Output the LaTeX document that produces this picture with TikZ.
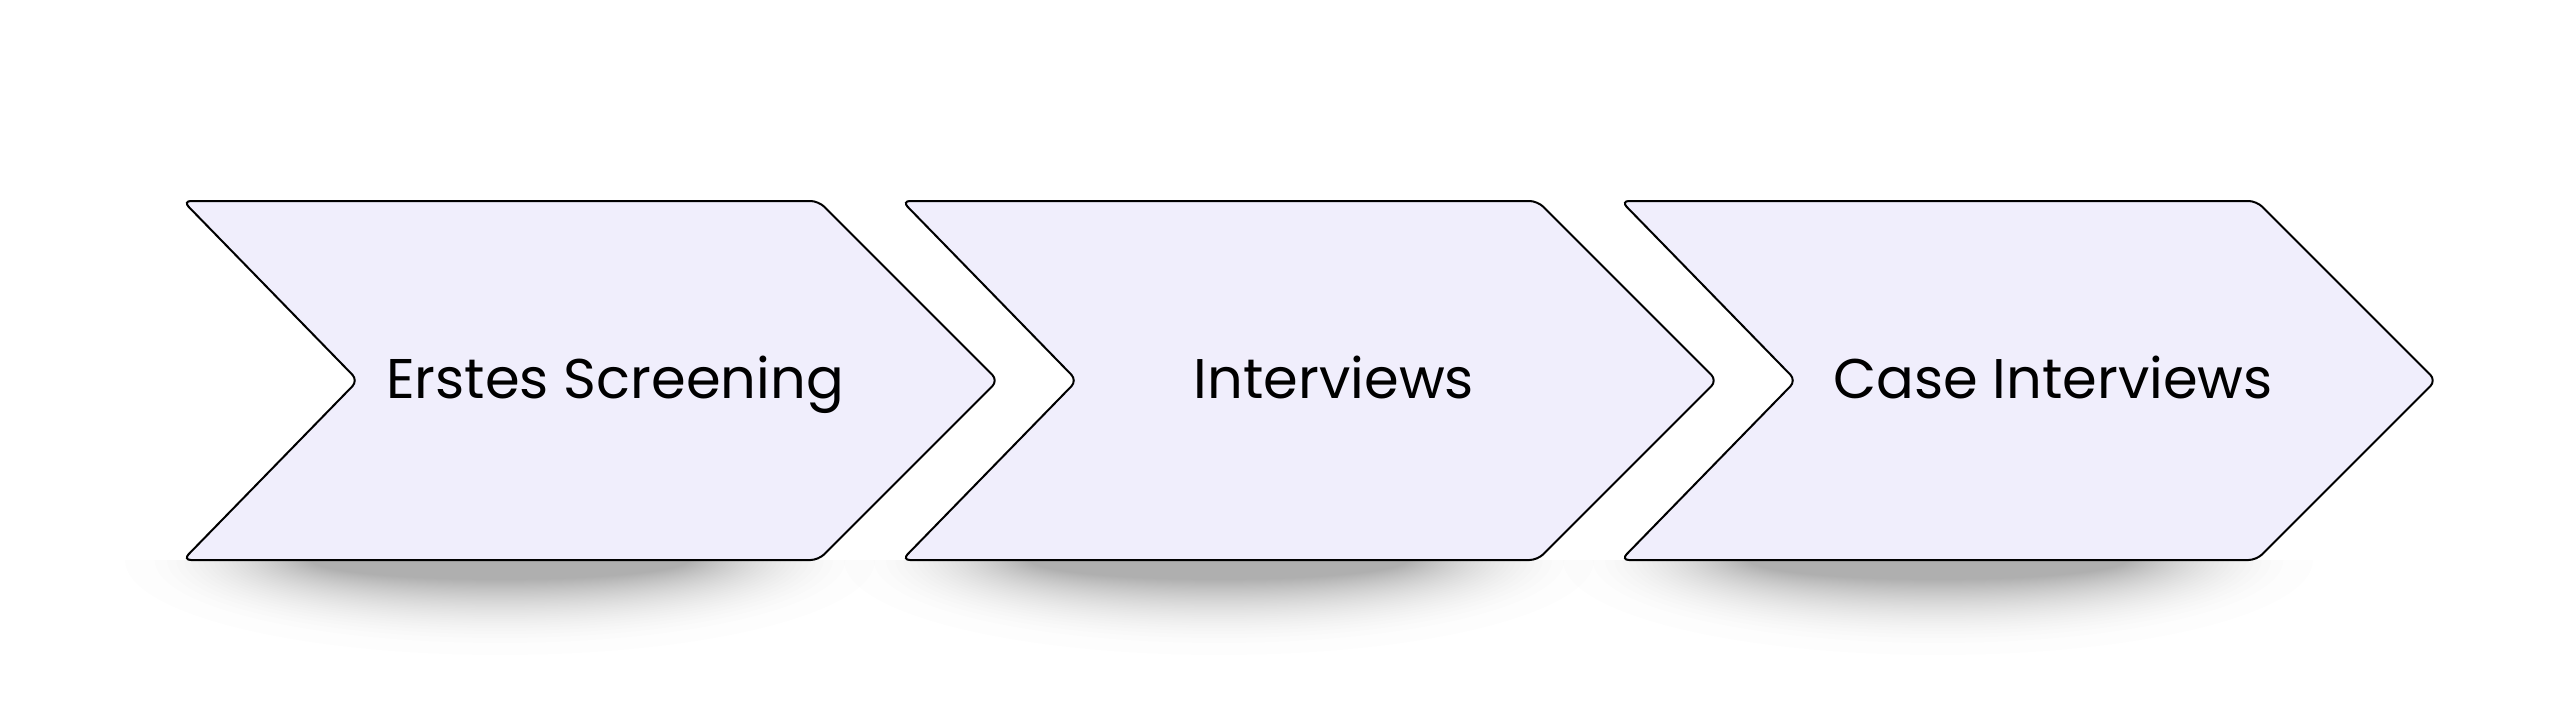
\documentclass[tikz,border=0pt]{standalone}
\usepackage{fontspec}
\setmainfont{Poppins}
\definecolor{chevfill}{RGB}{240,238,252}
\tikzset{
  chevron/.style={draw=black, line width=0.02cm, fill=chevfill, rounded corners=0.08cm},
  steptext/.style={font=\fontsize{15.9}{19}\selectfont, anchor=base, inner sep=0pt, text=black},
  shadowlayer/.style={fill=black, opacity=0.0092},
}
\begin{document}
\begin{tikzpicture}
\useasboundingbox[fill=white] (0,0) rectangle (25.63,-7.27);
% soft shadows below the chevron bodies
\foreach \i in {0,1,2}{
  \begin{scope}[xshift=\i*7.19cm]
    \clip (0.5,-5.60) rectangle (9.5,-7);
    \foreach \k in {0,...,39}{
      \pgfmathsetmacro{\s}{sqrt(\k/40)}
      \fill[shadowlayer] (5.0,-5.60) ellipse [x radius={3.75*(1-0.5*\s)}, y radius={0.95*(1-0.8*\s)}];
    }
  \end{scope}
}
% chevrons and texts
\foreach \i/\t in {0/Erstes Screening,1/Interviews,2/Case Interviews}{
  \begin{scope}[xshift=\i*7.19cm]
    \draw[chevron] (1.83,-2.01) -- (8.185,-2.01) -- (9.98,-3.805) -- (8.185,-5.60) -- (1.83,-5.60) -- (3.58,-3.805) -- cycle;
    \node[steptext] (t\i) at (6.15,-3.98) {\t};
  \end{scope}
}
\end{tikzpicture}
\end{document}
